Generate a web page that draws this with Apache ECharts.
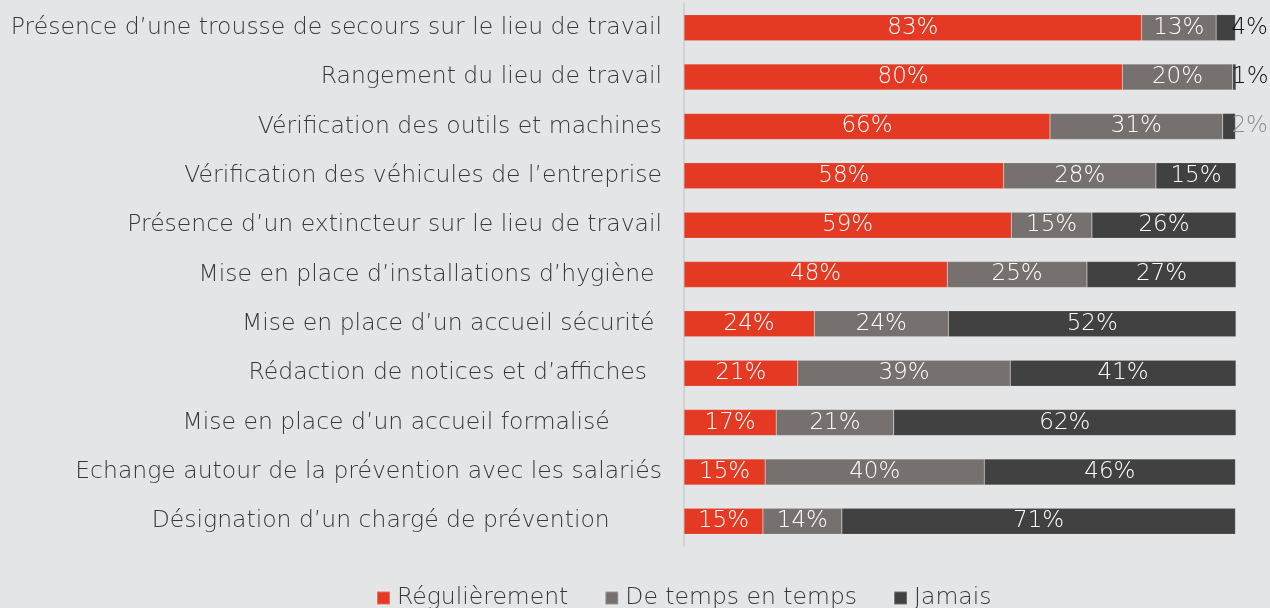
<!DOCTYPE html>
<html>
<head>
<meta charset="utf-8">
<script src="https://cdn.jsdelivr.net/npm/echarts@6/dist/echarts.min.js"></script>
<style>
  html, body { margin: 0; padding: 0; background: #e4e5e6; }
  #chart { width: 1270px; height: 608px; }
</style>
</head>
<body>
<div id="chart"></div>
<script>
// catégories (les espaces de fin viennent du graphique d'origine)
const categories = [
  "Présence d’une trousse de secours sur le lieu de travail",
  "Rangement du lieu de travail",
  "Vérification des outils et machines",
  "Vérification des véhicules de l’entreprise",
  "Présence d’un extincteur sur le lieu de travail",
  "Mise en place d’installations d’hygiène ",
  "Mise en place d’un accueil sécurité ",
  "Rédaction de notices et d’affiches  ",
  "Mise en place d’un accueil formalisé       ",
  "Echange autour de la prévention avec les salariés",
  "Désignation d’un chargé de prévention       "
];
const seriesNames = ["Régulièrement", "De temps en temps", "Jamais"];

// longueurs des barres
const reguliere = [82.9, 79.4, 66.3, 57.9, 59.3, 47.7, 23.6, 20.6, 16.7, 14.7, 14.3];
const parfois   = [13.5, 20.0, 31.3, 27.6, 14.6, 25.3, 24.3, 38.5, 21.3, 39.7, 14.3];
const jamais    = [3.5, 0.6, 2.3, 14.5, 26.1, 27.0, 52.1, 40.9, 62.0, 45.5, 71.3];

// pourcentages affichés
const reguliereTxt = [83, 80, 66, 58, 59, 48, 24, 21, 17, 15, 15];
const parfoisTxt   = [13, 20, 31, 28, 15, 25, 24, 39, 21, 40, 14];
const jamaisTxt    = [4, 1, 2, 15, 26, 27, 52, 41, 62, 46, 71];

const colors = ["#e43a24", "#76716f", "#414141"];
const FONT = "DejaVu Sans";

function buildData(values, texts, isLast) {
  return values.map((v, i) => {
    const item = { value: v, txt: texts[i] };
    // petits segments : étiquette à droite de la barre
    if (isLast && v < 5) {
      item.label = {
        position: "right",
        distance: -4,
        color: i === 2 ? "#8c8c8c" : "#111111"
      };
    }
    return item;
  });
}

const chart = echarts.init(document.getElementById("chart"));

const option = {
  backgroundColor: "#e4e5e6",
  animation: false,
  color: colors,
  grid: {
    left: 684,
    right: 34,
    top: 3,
    bottom: 62
  },
  legend: {
    left: 376,
    top: 586,
    padding: 0,
    itemWidth: 13,
    itemHeight: 13,
    itemGap: 36,
    icon: "rect",
    textStyle: { fontFamily: FONT, fontSize: 23.5, fontWeight: 300, color: "#383838", padding: [0, 0, 0, 2] },
    data: seriesNames
  },
  xAxis: {
    type: "value",
    min: 0,
    max: 100,
    show: false
  },
  yAxis: {
    type: "category",
    inverse: true,
    data: categories,
    axisTick: { show: false },
    axisLine: { show: true, lineStyle: { color: "#d2d3d4", width: 2 } },
    axisLabel: {
      margin: 22,
      fontFamily: FONT,
      fontSize: 23.5,
      fontWeight: 300,
      color: "#383838"
    }
  },
  series: [
    [reguliere, reguliereTxt],
    [parfois, parfoisTxt],
    [jamais, jamaisTxt]
  ].map(([vals, txts], k) => ({
    name: seriesNames[k],
    type: "bar",
    stack: "total",
    barWidth: 26,
    itemStyle: { borderColor: "rgba(255,255,255,0.25)", borderWidth: 0.5 },
    label: {
      show: true,
      position: "inside",
      color: "#ffffff",
      fontFamily: FONT,
      fontSize: 23,
      fontWeight: 300,
      formatter: (p) => p.data.txt + "%"
    },
    data: buildData(vals, txts, k === 2)
  }))
};

chart.setOption(option);
</script>
</body>
</html>
